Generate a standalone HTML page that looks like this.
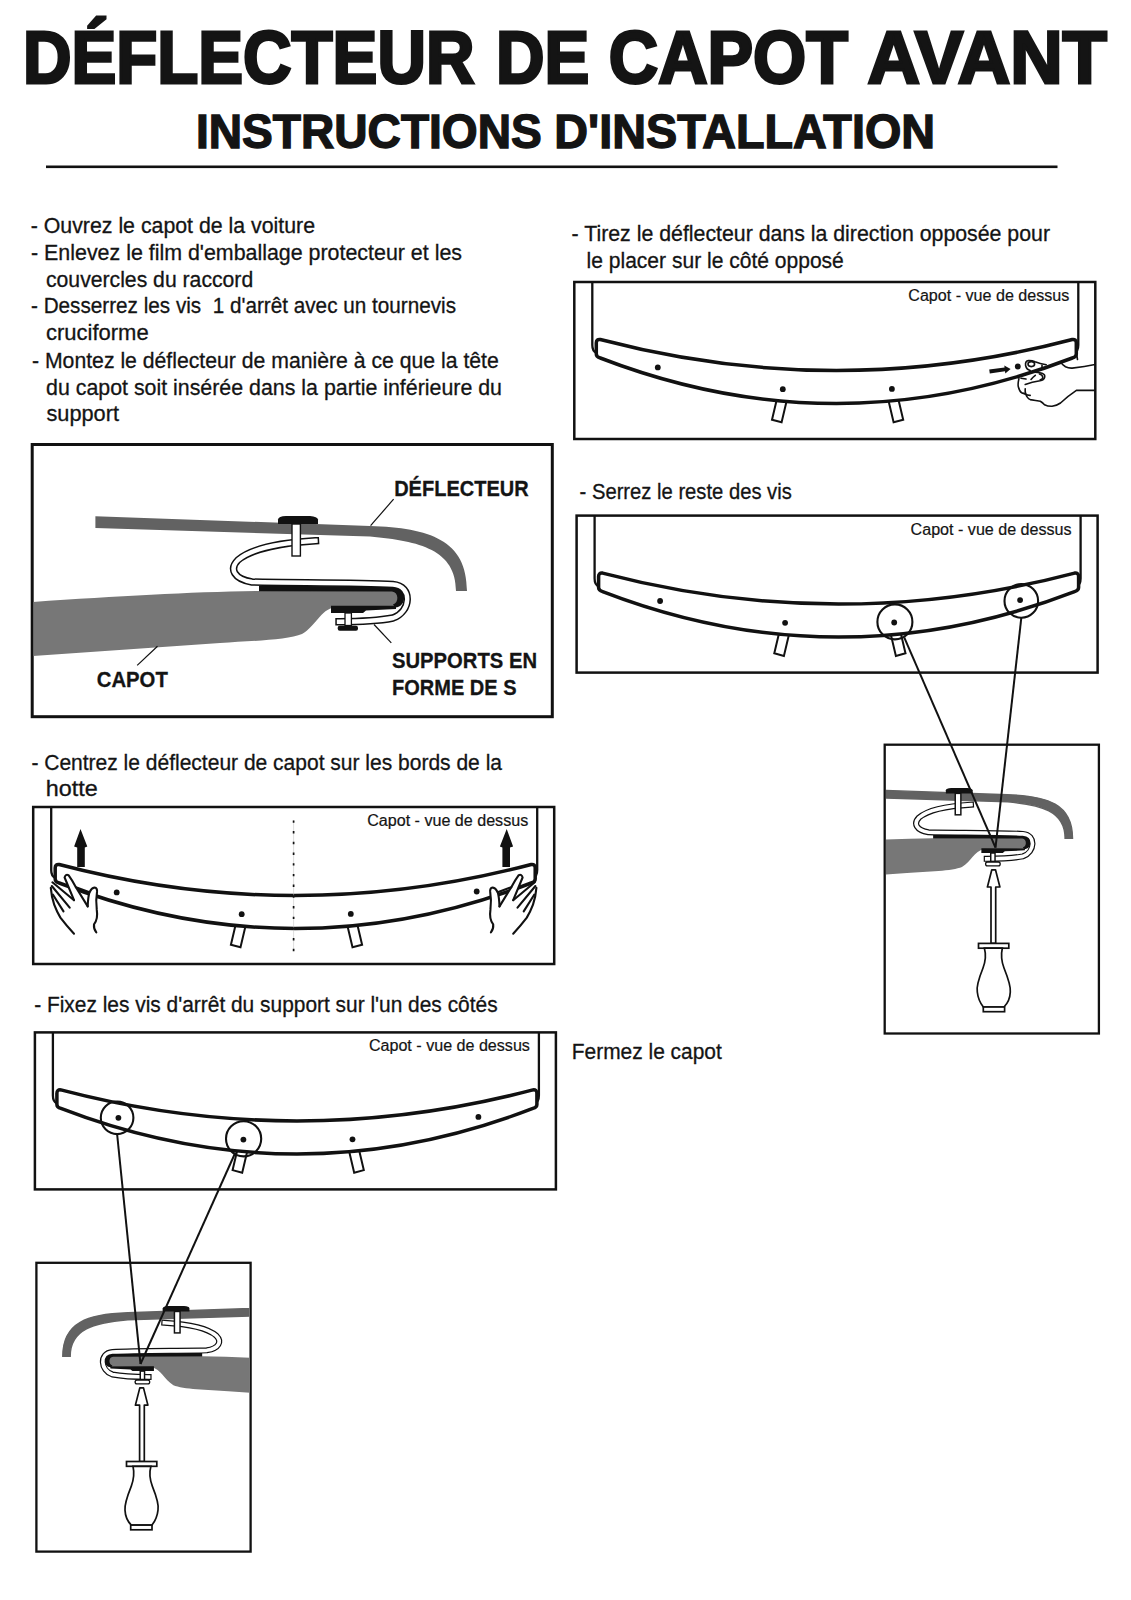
<!DOCTYPE html>
<html><head><meta charset="utf-8">
<style>
html,body{margin:0;padding:0;background:#fff;}
body{width:1131px;height:1600px;overflow:hidden;position:relative;}
svg{position:absolute;left:0;top:0;}
text{font-family:"Liberation Sans",sans-serif;fill:#141414;}
.b{font-weight:bold;}
.t{font-size:22px;stroke:#141414;stroke-width:0.3;}
.s{font-size:16px;stroke:#141414;stroke-width:0.2;}
</style></head><body>
<svg width="1131" height="1600" viewBox="0 0 1131 1600">
<defs>
  <!-- top view diagram, local coords -->
  <g id="tv">
    <rect x="0" y="0" width="521" height="157" fill="#fff" stroke="#111" stroke-width="2.5"/>
    <path d="M18,0 L18,63 Q18,69 22,71" fill="none" stroke="#111" stroke-width="2.3"/>
    <path d="M504,0 L504,63 Q504,69 500,71" fill="none" stroke="#111" stroke-width="2.3"/>
    <polygon points="202.9,115.7 212.5,118.3 207.3,140.3 197.7,137.7" fill="#fff" stroke="#111" stroke-width="2"/>
    <polygon points="314.1,118.3 323.7,115.7 328.9,137.7 319.3,140.3" fill="#fff" stroke="#111" stroke-width="2"/>
    <path d="M22,61 Q22,57 26,57.5 Q262,119.5 498,57.5 Q502,57 502,61 L502,72 Q502,75 498,76 Q262,167 26,76 Q22,75 22,72 Z" fill="#fff" stroke="#111" stroke-width="3.5" stroke-linejoin="round"/>
    <circle cx="83.5" cy="85.4" r="2.9" fill="#111"/>
    <circle cx="208.5" cy="107.2" r="2.9" fill="#111"/>
    <circle cx="317.6" cy="106.9" r="2.9" fill="#111"/>
    <circle cx="443.5" cy="84.5" r="2.9" fill="#111"/>
    <text class="s" x="334" y="19" textLength="161" lengthAdjust="spacingAndGlyphs">Capot - vue de dessus</text>
  </g>
  <!-- mechanism, big-diagram coords -->
  <g id="mech">
    <path d="M95.4,516.2 L370,526 C430,528 467,540 467,591 L456,591 C456,550 420,541 370,536.5 L95.4,528 Z" fill="#626262" stroke="#626262" style="stroke-width:var(--bs,0)"/>
    <path d="M33,602 C120,596 190,592 259,591 L393,590.5 C401,590.5 401,606 393,606 L335,607 C320,610 316,626 302,634 C288,640 250,641 220,643 L33,656 Z" fill="#777"/>
    <!-- black shim top -->
    <path d="M259,585.8 L393,586.5 C407,587 408,607 395,607.5 L393,604.5 C399,603 399,592 392,591.5 L259,591.2 Z" fill="#111"/>
    <!-- bottom plate -->
    <path d="M331,605.8 L396,605.8 L396,609 L366,610.5 L363,613 L331,613 Z" fill="#111"/>
    <!-- S bracket -->
        <path d="M315.5,540.8 C285,542.5 252,548 238,560 C229,569 234,579 252,582 C290,583 360,582.5 393,584.5 C413,586 411,612 393,618 C375,621.5 355,621.7 339,621.7" fill="none" stroke="#111" style="stroke-width:var(--tb,7.4)" stroke-linecap="square"/>
    <path d="M315.5,540.8 C285,542.5 252,548 238,560 C229,569 234,579 252,582 C290,583 360,582.5 393,584.5 C413,586 411,612 393,618 C375,621.5 355,621.7 339,621.7" fill="none" stroke="#fff" style="stroke-width:var(--tw,4.4)" stroke-linecap="square"/>
    <!-- top screw -->
    <path d="M278,524 L278,519.5 Q278.5,516.2 286,516 L310,516 Q317.5,516.5 318,519.5 L318,524 Z" fill="#111"/>
    <rect x="292" y="524" width="8.4" height="32" fill="#fff" stroke="#111" style="stroke-width:var(--ss,1.4)"/>
    <!-- bottom screw -->
    <rect x="345" y="613" width="6.4" height="12.5" fill="#fff" stroke="#111" style="stroke-width:var(--ss,1.3)"/>
    <rect x="337.7" y="625.7" width="20.3" height="5" rx="2" fill="#111"/>
  </g>
  <g id="sd">
    <rect x="985.6" y="862" width="14.6" height="3.8" rx="1.9" fill="#fff" stroke="#111" stroke-width="1.3"/>
    <path d="M991.8,869.8 L995.5,869.8 L999.9,887 L995.7,887 L995.7,943.4 L991,943.4 L991,887 L987.4,887 Z" fill="#fff" stroke="#111" stroke-width="1.7" stroke-linejoin="round"/>
    <rect x="978.5" y="943.4" width="30.3" height="4.8" fill="#fff" stroke="#111" stroke-width="1.7"/>
    <path d="M984.4,948.2 C986,954 986,960 983,968 C979,978 976,986 977.3,992 C978,999 981,1004 983.3,1007 L1004,1007 C1007,1004 1010,999 1010.3,992 C1011,986 1008,978 1004,968 C1001,960 1001,954 1002.3,948.2 Z" fill="#fff" stroke="#111" stroke-width="1.7"/>
    <rect x="983.3" y="1007" width="21.3" height="4.7" fill="#fff" stroke="#111" stroke-width="1.7"/>
  </g>
  <clipPath id="clipF"><rect x="886" y="746" width="211.5" height="286"/></clipPath>
  <clipPath id="clipE"><rect x="33.5" y="446" width="518" height="269"/></clipPath>
</defs>

<!-- TITLE -->
<rect x="46" y="165.5" width="1011.5" height="2.6" fill="#111"/>

<!-- LEFT TEXT BLOCK -->

<!-- BOX E: big side view -->
<rect x="32.2" y="444.5" width="520.1" height="272.2" fill="#fff" stroke="#111" stroke-width="3"/>
<g clip-path="url(#clipE)"><use href="#mech"/></g>
<line x1="370.6" y1="525.6" x2="393.6" y2="499.2" stroke="#111" stroke-width="1.2"/>
<line x1="374" y1="624.5" x2="391.3" y2="642.9" stroke="#111" stroke-width="1.2"/>
<line x1="137.2" y1="665.4" x2="157.5" y2="646.3" stroke="#111" stroke-width="1.2"/>

<!-- RIGHT COLUMN TEXT -->

<!-- BOX A -->
<use href="#tv" x="574.3" y="282"/>
<!-- BOX B -->
<use href="#tv" x="576.6" y="515.6"/>

<!-- LEFT: Centrez -->
<use href="#tv" x="33.2" y="807"/>

<!-- LEFT: Fixez -->
<use href="#tv" x="34.9" y="1032.4"/>

<!-- BOX F -->
<rect x="884.7" y="744.7" width="214.2" height="288.8" fill="#fff" stroke="#111" stroke-width="2.3"/>
<g clip-path="url(#clipF)"><use href="#mech" transform="matrix(0.67 0 0 0.67 759.6 442.3)" style="--tb:9;--tw:5.4;--ss:2.2;--bs:2.2"/></g>
<use href="#sd"/>
<!-- BOX G (mirror of F) -->
<g transform="matrix(-1 0 0 1 1135.3 518.1)">
  <rect x="884.7" y="744.7" width="214.2" height="288.8" fill="#fff" stroke="#111" stroke-width="2.3"/>
  <g clip-path="url(#clipF)"><use href="#mech" transform="matrix(0.67 0 0 0.67 759.6 442.3)" style="--tb:9;--tw:5.4;--ss:2.2;--bs:2.2"/></g>
  <use href="#sd"/>
</g>

<!-- circles & lines B->F -->
<circle cx="894.9" cy="621.9" r="17.5" fill="none" stroke="#111" stroke-width="2.1"/>
<circle cx="1021.3" cy="600.9" r="16.8" fill="none" stroke="#111" stroke-width="2.1"/>
<line x1="904.2" y1="637.4" x2="995.5" y2="847.7" stroke="#111" stroke-width="2"/>
<line x1="1021.3" y1="617.9" x2="995.5" y2="847.7" stroke="#111" stroke-width="2"/>
<!-- circles & lines D->G -->
<circle cx="117.1" cy="1117.8" r="16.3" fill="none" stroke="#111" stroke-width="2.1"/>
<circle cx="243.6" cy="1138.8" r="17.6" fill="none" stroke="#111" stroke-width="2.1"/>
<line x1="117.1" y1="1134" x2="140.5" y2="1364" stroke="#111" stroke-width="2"/>
<line x1="235.4" y1="1152.5" x2="140.5" y2="1364" stroke="#111" stroke-width="2"/>

<!-- EXTRAS box C: dashed center, arrows, hands -->
<line x1="293.6" y1="820" x2="293.6" y2="951" stroke="#bbb" stroke-width="0.5"/>
<line x1="293.6" y1="820.4" x2="293.6" y2="952" stroke="#111" stroke-width="1.7" stroke-dasharray="2.4 8.3"/>
<g id="handC">
  <path d="M80.5,828.9 L87.3,846.5 L84.8,847.5 L84.8,867 L77.2,867 L77.2,847.5 L74.1,846.5 Z" fill="#111"/>
  <path d="M74,900.2 L64.6,877.5 Q65.5,873.8 68.5,875.2 Q72,880 75.9,887.2 L87.7,906.4 L89.5,892.2 L92.6,888.5 L94.5,887.5 L96.9,890.3 L96,898.4 L97.6,915.7 L74,915 Z" fill="#fff"/>
  <g fill="none" stroke="#111" stroke-width="2.1" stroke-linecap="round" stroke-linejoin="round">
    <path d="M74,900.2 L64.6,877.5 Q65.5,873.8 68.5,875.2 Q72,880 75.9,887.2 L87.7,906.4"/>
    <path d="M75.9,887.2 L89.5,892.2"/>
    <path d="M87.7,906.4 Q88,897 89.5,892.2 Q91.5,888 94.5,887.5 Q97.5,888 97,892 Q95.6,900 96.8,910 Q98.2,919 94,924.4 Q93.5,929 96.3,932.4"/>
    <path d="M52.4,882.3 L74,900.2"/>
    <path d="M51.8,886 L69.7,907.7"/>
    <path d="M53,894.7 L63.5,911.4"/>
    <path d="M50.8,887.9 Q51.5,897 54.2,904.6 Q57,912 60.4,917.6 Q66,925 74,933.7"/>
  </g>
</g>
<use href="#handC" transform="matrix(-1 0 0 1 587.2 0)"/>

<!-- EXTRAS box A: arrow + hand -->
<path d="M989.2,369.4 L1004.6,367.4 L1004.3,365.6 L1010.6,369 L1005.3,373.6 L1005,371.3 L989.8,373.4 Z" fill="#111"/>
<g fill="none" stroke="#111" stroke-width="1.6" stroke-linecap="round" stroke-linejoin="round">
  <path d="M1030.2,370.6 Q1026.5,369.5 1025.6,365.5 Q1025,361 1028.5,360.5 Q1032,360.3 1035,361.8 Q1040,364 1046.2,364.7"/>
  <ellipse cx="1031.3" cy="364.1" rx="3.3" ry="2.5"/>
  <path d="M1042,365.2 Q1042.5,367.5 1041.1,369.8"/>
  <path d="M1032.7,371.9 Q1038,372.2 1042,373.2 Q1045.5,374.5 1044.6,377.5 Q1044,380 1040,380.8 Q1032,382 1025.2,384.5"/>
  <path d="M1039.5,374 Q1042.6,375 1042.8,377.3 Q1042.5,379.5 1040.2,379.8"/>
  <path d="M1031,379.5 Q1033,377 1035.3,375.3"/>
  <path d="M1021,378.2 L1026,379"/>
  <path d="M1018.9,378.6 Q1017.6,385 1018.4,387 Q1019.5,391.5 1021.8,392.9 Q1025,393.5 1026,394.6 Q1026.5,396.5 1027.3,397.1 Q1028.5,399 1030.2,399.6 Q1036,400.5 1040.3,401.3 Q1042.5,402.5 1044.5,404.7 Q1048,406.5 1052.1,406.3 Q1057,405.5 1060.5,403 Q1068,396 1076.4,390.4 L1095,390.4"/>
  <path d="M1025.2,388.7 Q1025,391.5 1025.6,393.7 Q1027,395.5 1030.2,395.4"/>
  <path d="M1060.5,361.8 Q1062.5,365 1065.5,366.8 Q1068.5,368.3 1072.2,368.1 Q1085,366.5 1095,364.5"/>
  <path d="M1076.6,354 L1077.5,359.5"/>
</g>
<text class="b" x="22.99" y="83" font-size="74.5" stroke="#141414" stroke-width="3.0" textLength="451.41" lengthAdjust="spacingAndGlyphs">DÉFLECTEUR</text>
<text class="b" x="496.05" y="83" font-size="74.5" stroke="#141414" stroke-width="3.0" textLength="93.20" lengthAdjust="spacingAndGlyphs">DE</text>
<text class="b" x="608.80" y="83" font-size="74.5" stroke="#141414" stroke-width="3.0" textLength="239.20" lengthAdjust="spacingAndGlyphs">CAPOT</text>
<text class="b" x="867.60" y="83" font-size="74.5" stroke="#141414" stroke-width="3.0" textLength="239.40" lengthAdjust="spacingAndGlyphs">AVANT</text>
<text class="b" x="195.98" y="147.5" font-size="47.8" stroke="#141414" stroke-width="1.4" textLength="345.83" lengthAdjust="spacingAndGlyphs">INSTRUCTIONS</text>
<text class="b" x="554.37" y="147.5" font-size="47.8" stroke="#141414" stroke-width="1.4" textLength="380.65" lengthAdjust="spacingAndGlyphs">D&#39;INSTALLATION</text>
<text class="t" x="30.79" y="233.2" textLength="284.22" lengthAdjust="spacingAndGlyphs">- Ouvrez le capot de la voiture</text>
<text class="t" x="31.00" y="259.6" textLength="431.01" lengthAdjust="spacingAndGlyphs">- Enlevez le film d&#39;emballage protecteur et les</text>
<text class="t" x="45.99" y="286.5" textLength="207.22" lengthAdjust="spacingAndGlyphs">couvercles du raccord</text>
<text class="t" x="31.00" y="312.6" textLength="425.00" lengthAdjust="spacingAndGlyphs">- Desserrez les vis  1 d&#39;arrêt avec un tournevis</text>
<text class="t" x="45.98" y="339.5" textLength="102.64" lengthAdjust="spacingAndGlyphs">cruciforme</text>
<text class="t" x="32.00" y="367.9" textLength="466.81" lengthAdjust="spacingAndGlyphs">- Montez le déflecteur de manière à ce que la tête</text>
<text class="t" x="46.00" y="394.6" textLength="456.01" lengthAdjust="spacingAndGlyphs">du capot soit insérée dans la partie inférieure du</text>
<text class="t" x="46.40" y="421.3" textLength="72.60" lengthAdjust="spacingAndGlyphs">support</text>
<text class="t" x="571.60" y="241.3" textLength="478.40" lengthAdjust="spacingAndGlyphs">- Tirez le déflecteur dans la direction opposée pour</text>
<text class="t" x="586.58" y="268.2" textLength="257.22" lengthAdjust="spacingAndGlyphs">le placer sur le côté opposé</text>
<text class="t" x="579.59" y="499.2" textLength="212.21" lengthAdjust="spacingAndGlyphs">- Serrez le reste des vis</text>
<text class="t" x="571.78" y="1059.2" textLength="150.02" lengthAdjust="spacingAndGlyphs">Fermez le capot</text>
<text class="t" x="31.40" y="769.7" textLength="470.60" lengthAdjust="spacingAndGlyphs">- Centrez le déflecteur de capot sur les bords de la</text>
<text class="t" x="45.71" y="796.4" textLength="51.95" lengthAdjust="spacingAndGlyphs">hotte</text>
<text class="t" x="34.20" y="1011.5" textLength="463.40" lengthAdjust="spacingAndGlyphs">- Fixez les vis d&#39;arrêt du support sur l&#39;un des côtés</text>
<text class="b" x="394.18" y="495.6" font-size="22.4" stroke="#141414" stroke-width="0.3" textLength="134.43" lengthAdjust="spacingAndGlyphs">DÉFLECTEUR</text>
<text class="b" x="391.98" y="667.8" font-size="22.4" stroke="#141414" stroke-width="0.3" textLength="145.03" lengthAdjust="spacingAndGlyphs">SUPPORTS EN</text>
<text class="b" x="391.98" y="695.2" font-size="22.4" stroke="#141414" stroke-width="0.3" textLength="124.63" lengthAdjust="spacingAndGlyphs">FORME DE S</text>
<text class="b" x="96.79" y="686.8" font-size="22.4" stroke="#141414" stroke-width="0.3" textLength="71.01" lengthAdjust="spacingAndGlyphs">CAPOT</text>
</svg>
</body></html>
